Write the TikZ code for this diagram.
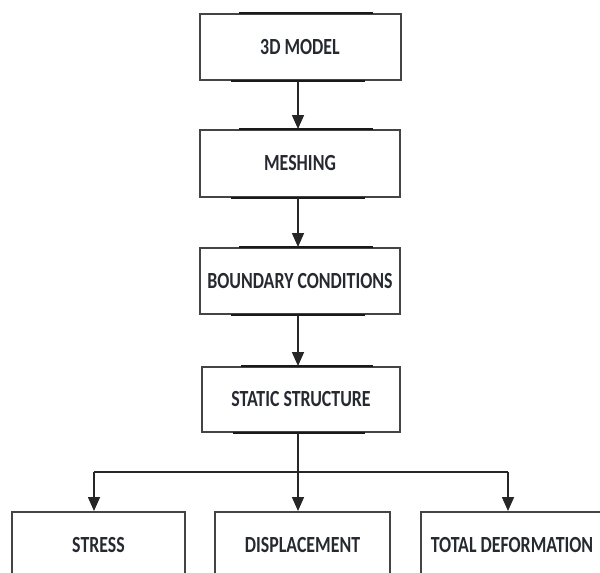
\documentclass[tikz,border=0pt]{standalone}
\usepackage{fontspec}
\setmainfont{Carlito}
\usetikzlibrary{arrows.meta,calc}
\definecolor{edge}{HTML}{444444}
\definecolor{txt}{HTML}{262A30}
\newcommand{\lbl}[1]{\scalebox{0.85}[1.1]{#1}}
\tikzset{
  box/.style={draw=edge, line width=2pt, rectangle, minimum height=66pt, inner sep=0pt,
    font=\fontsize{21}{21}\selectfont\bfseries, text=txt},
  arr/.style={draw=black!85, line width=1.6pt, -{Triangle[width=12pt,length=14pt]}},
  ln/.style={draw=black!85, line width=1.6pt},
  rim/.style={draw=black!90, line width=2.8pt}
}
\begin{document}
\begin{tikzpicture}[x=1pt,y=-1pt]
\useasboundingbox (0,0) rectangle (600,573);
\clip (0,0) rectangle (600,573);
\node[box, minimum width=201pt, minimum height=66pt] (m3d) at (300,47) {\lbl{3D MODEL}};
\node[box, minimum width=200pt, minimum height=67pt] (mesh) at (300,163.5) {\lbl{MESHING}};
\node[box, minimum width=200pt] (bc) at (300,281) {\lbl{BOUNDARY CONDITIONS}};
\node[box, minimum width=198pt, minimum height=65pt] (ss) at (301,399.5) {\lbl{STATIC STRUCTURE}};
\node[box, minimum width=173pt] (stress) at (98.5,545) {\lbl{STRESS}};
\node[box, minimum width=175pt] (disp) at (302.5,545) {\lbl{DISPLACEMENT}};
\node[box, minimum width=182pt] (tdef) at (512,545) {\lbl{TOTAL DEFORMATION}};
\foreach \n in {m3d,mesh,bc,ss}{
  \draw[rim] ($(\n.north west)!0.2!(\n.north east)$) -- ($(\n.north west)!0.86!(\n.north east)$);
  \draw[rim] ($(\n.south west)!0.16!(\n.south east)$) -- ($(\n.south west)!0.82!(\n.south east)$);
}
\draw[arr] ([xshift=-2pt]m3d.south) -- ([xshift=-2pt]mesh.north);
\draw[arr] ([xshift=-2pt]mesh.south) -- ([xshift=-2pt]bc.north);
\draw[arr] ([xshift=-2pt]bc.south) -- ([xshift=-3pt]ss.north);
\coordinate (bl) at (94,472);
\coordinate (br) at (508,472);
\draw[arr] ([xshift=-3pt]ss.south) -- ([xshift=-4.5pt]disp.north);
\draw[ln] (bl) -- (br);
\draw[arr] (bl) -- (bl |- stress.north);
\draw[arr] (br) -- (br |- tdef.north);
\end{tikzpicture}
\end{document}
